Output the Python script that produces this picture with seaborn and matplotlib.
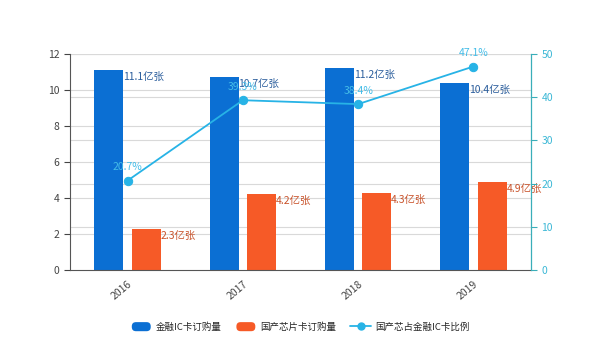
import matplotlib
matplotlib.use("Agg")
import matplotlib.pyplot as plt
import seaborn as sns
import pandas as pd
from matplotlib.patches import FancyBboxPatch
from matplotlib.legend_handler import HandlerPatch
from matplotlib.lines import Line2D

years = ["2016", "2017", "2018", "2019"]
finance_ic = [11.1, 10.7, 11.2, 10.4]       # 金融IC卡订购量 (亿张)
domestic_chip = [2.3, 4.2, 4.3, 4.9]        # 国产芯片卡订购量 (亿张)
domestic_share = [20.7, 39.3, 38.4, 47.1]   # 国产芯占金融IC卡比例 (%)

series_names = ["金融IC卡订购量", "国产芯片卡订购量", "国产芯占金融IC卡比例"]

BLUE = "#0b6fd3"
ORANGE = "#f65a27"
CYAN = "#27b3e6"
AXIS_TEAL = "#3aaeb9"
GRID = "#d9d9d9"

LEFT_MAX, RIGHT_MAX = 12, 50

sns.set_theme(style="white")
plt.rcParams["font.family"] = ["Noto Sans CJK SC", "DejaVu Sans"]

df = pd.DataFrame({
    "year": years * 2,
    "value": finance_ic + domestic_chip,
    "series": [series_names[0]] * 4 + [series_names[1]] * 4,
})

fig = plt.figure(figsize=(6.0, 3.45), dpi=100)
ax = fig.add_axes([70 / 600, 1 - 270 / 345, 461 / 600, 216 / 345])

# grid lines for both scales, kept behind the bars
ax.set_ylim(0, LEFT_MAX)
for t in range(2, LEFT_MAX + 1, 2):
    ax.axhline(t, color=GRID, linewidth=0.8, zorder=0)
for t in range(10, RIGHT_MAX + 1, 10):
    ax.axhline(t * LEFT_MAX / RIGHT_MAX, color=GRID, linewidth=0.8, zorder=0)

sns.barplot(data=df, x="year", y="value", hue="series", order=years,
            palette=[BLUE, ORANGE], width=0.65, gap=0.23, ax=ax,
            legend=False, saturation=1, linewidth=0, zorder=2)

ax.set_ylim(0, LEFT_MAX)
ax.set_yticks(range(0, LEFT_MAX + 1, 2))
ax.set_xlim(-0.5, 3.5)
ax.set_xlabel("")
ax.set_ylabel("")
ax.tick_params(axis="y", labelsize=7.5, colors="#444444", length=4, width=0.8)
ax.tick_params(axis="x", labelsize=7.5, colors="#444444", length=3, width=0.8)
for lbl in ax.get_xticklabels():
    lbl.set_rotation(40)
    lbl.set_ha("right")
    lbl.set_rotation_mode("anchor")
for s in ["top", "right"]:
    ax.spines[s].set_visible(False)
for s in ["left", "bottom"]:
    ax.spines[s].set_color("#555555")
    ax.spines[s].set_linewidth(0.8)

# value labels right of the bar tops
for cont, col in zip(ax.containers, ["#2a5d9c", "#c9532b"]):
    for rect, v in zip(cont.patches, cont.datavalues):
        ax.annotate(f"{v:.1f}亿张", (rect.get_x() + rect.get_width(), v),
                    xytext=(0, -5), textcoords="offset points",
                    ha="left", va="center", fontsize=7.5, color=col)

# secondary axis with the share line, drawn on top of the bars
ax2 = ax.twinx()
ax2.set_ylim(0, RIGHT_MAX)
ax2.set_yticks(range(0, RIGHT_MAX + 1, 10))
sns.lineplot(x=list(range(len(years))), y=domestic_share, ax=ax2,
             color=CYAN, linewidth=1.3, marker="o", markersize=6,
             markeredgecolor=CYAN)
ax2.set_ylabel("")
ax2.grid(False)
for s in ["top", "left", "bottom"]:
    ax2.spines[s].set_visible(False)
ax2.spines["right"].set_color(AXIS_TEAL)
ax2.spines["right"].set_linewidth(0.9)
ax2.tick_params(axis="y", labelsize=7.5, colors=AXIS_TEAL, length=4,
                width=0.8, labelcolor="#3cb8d6")

for i, v in enumerate(domestic_share):
    ax2.annotate(f"{v:.1f}%", (i, v), xytext=(0, 6), textcoords="offset points",
                 ha="center", va="bottom", fontsize=7.5, color="#45bde8")


class RoundedHandler(HandlerPatch):
    def create_artists(self, legend, orig_handle, xdescent, ydescent,
                       width, height, fontsize, trans):
        p = FancyBboxPatch((-xdescent + 1, -ydescent), width - 2, height,
                           boxstyle="round,pad=0,rounding_size=3",
                           facecolor=orig_handle.get_facecolor(),
                           edgecolor="none", transform=trans)
        return [p]


handles = [
    FancyBboxPatch((0, 0), 1, 1, facecolor=BLUE),
    FancyBboxPatch((0, 0), 1, 1, facecolor=ORANGE),
    Line2D([], [], color=CYAN, marker="o", markersize=5, linewidth=1.3),
]
fig.legend(handles, series_names, loc="center", bbox_to_anchor=(0.5, 1 - 327 / 345),
           ncol=3, frameon=False, fontsize=6.8, handlelength=2.3,
           handleheight=1.1, columnspacing=1.4, handletextpad=0.4,
           handler_map={FancyBboxPatch: RoundedHandler()})

fig.savefig("out.png", dpi=100)
